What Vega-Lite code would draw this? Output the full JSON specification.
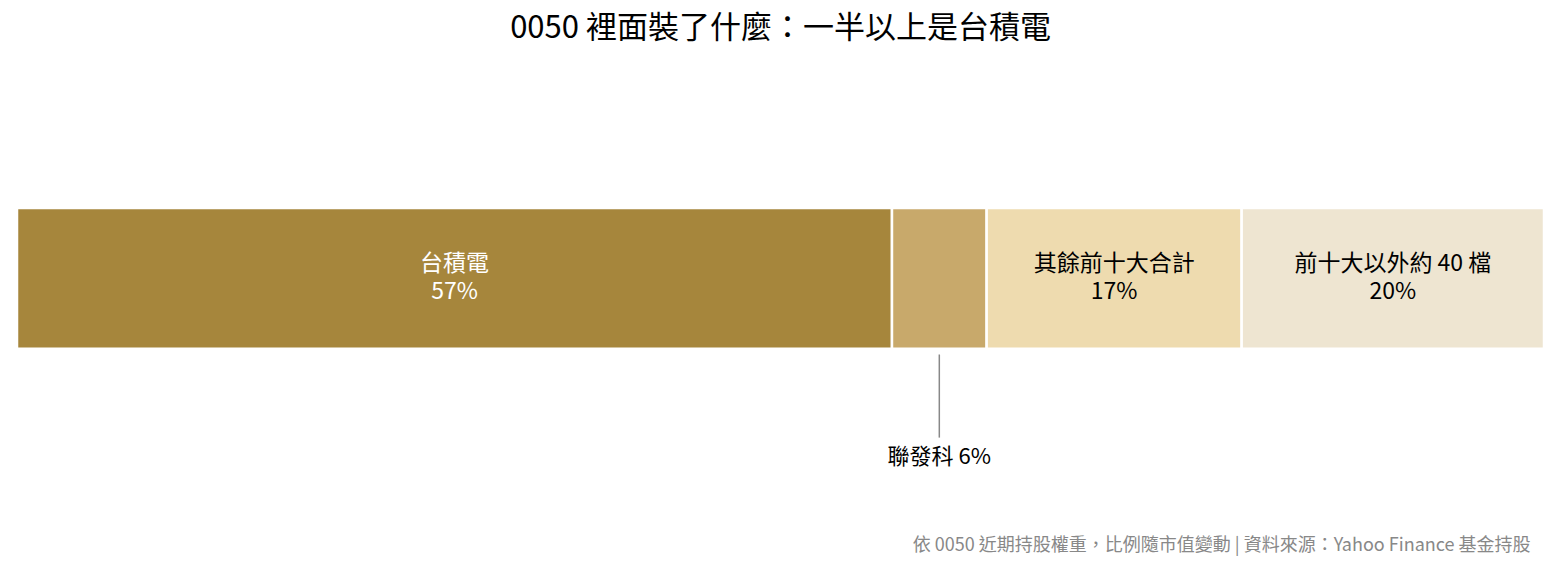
{
  "$schema": "https://vega.github.io/schema/vega-lite/v6.json",
  "autosize": "none",
  "padding": {"left": 17, "top": 208, "right": 16, "bottom": 100},
  "width": 1527,
  "height": 262,
  "background": "white",
  "title": {
    "text": "0050 裡面裝了什麼：一半以上是台積電",
    "anchor": "middle",
    "offset": 162,
    "fontSize": 31,
    "fontWeight": "normal",
    "color": "black",
    "font": "Noto Sans CJK TC"
  },
  "config": {
    "view": {"stroke": null},
    "text": {"font": "Noto Sans CJK TC"}
  },
  "data": {
    "values": [
      {"name": "台積電", "weight": 57.3, "color": "#A6863C", "inside": true},
      {"name": "聯發科", "weight": 6.2, "color": "#C8A96B", "inside": false},
      {"name": "其餘前十大合計", "weight": 16.7, "color": "#EEDBAF", "inside": true},
      {"name": "前十大以外約 40 檔", "weight": 19.8, "color": "#EEE5D1", "inside": true}
    ]
  },
  "transform": [
    {"window": [{"op": "sum", "field": "weight", "as": "end"}], "frame": [null, 0]},
    {"calculate": "datum.end - datum.weight", "as": "start"},
    {"calculate": "(datum.start + datum.end) / 2", "as": "mid"},
    {"calculate": "format(datum.weight, '.0f') + '%'", "as": "pct"}
  ],
  "layer": [
    {
      "mark": {"type": "bar", "stroke": "white", "strokeWidth": 2.5},
      "encoding": {
        "x": {
          "field": "start", "type": "quantitative",
          "scale": {"domain": [0, 100], "nice": false, "zero": true},
          "axis": {
            "domain": false, "ticks": false, "labels": false, "grid": false,
            "title": "依 0050 近期持股權重，比例隨市值變動 | 資料來源：Yahoo Finance 基金持股",
            "titleFont": "Noto Sans CJK TC",
            "titleFontSize": 18,
            "titleFontWeight": "normal",
            "titleColor": "#888888",
            "titleAnchor": "end",
            "titleAlign": "right",
            "titleX": 1513,
            "titlePadding": 66
          }
        },
        "x2": {"field": "end"},
        "y": {"datum": 0, "type": "quantitative", "scale": {"domain": [0, 1.86], "nice": false, "zero": true, "reverse": true}, "axis": null},
        "y2": {"datum": 1},
        "color": {"field": "color", "type": "nominal", "scale": null}
      }
    },
    {
      "transform": [{"filter": "datum.inside"}],
      "mark": {"type": "text", "fontSize": 23, "baseline": "middle", "align": "center", "dy": -14},
      "encoding": {
        "x": {"field": "mid", "type": "quantitative"},
        "y": {"datum": 0.5, "type": "quantitative"},
        "text": {"field": "name"},
        "color": {"condition": {"test": "datum.name == '台積電'", "value": "white"}, "value": "black"}
      }
    },
    {
      "transform": [{"filter": "datum.inside"}],
      "mark": {"type": "text", "fontSize": 23, "baseline": "middle", "align": "center", "dy": 14},
      "encoding": {
        "x": {"field": "mid", "type": "quantitative"},
        "y": {"datum": 0.5, "type": "quantitative"},
        "text": {"field": "pct"},
        "color": {"condition": {"test": "datum.name == '台積電'", "value": "white"}, "value": "black"}
      }
    },
    {
      "transform": [{"filter": "!datum.inside"}],
      "mark": {"type": "rule", "color": "#888888", "strokeWidth": 1.5},
      "encoding": {
        "x": {"field": "mid", "type": "quantitative"},
        "y": {"datum": 1.04, "type": "quantitative"},
        "y2": {"datum": 1.63}
      }
    },
    {
      "transform": [
        {"filter": "!datum.inside"},
        {"calculate": "datum.name + ' ' + datum.pct", "as": "label"}
      ],
      "mark": {"type": "text", "fontSize": 22, "baseline": "middle", "align": "center", "color": "black"},
      "encoding": {
        "x": {"field": "mid", "type": "quantitative"},
        "y": {"datum": 1.77, "type": "quantitative"},
        "text": {"field": "label"}
      }
    }
  ]
}
